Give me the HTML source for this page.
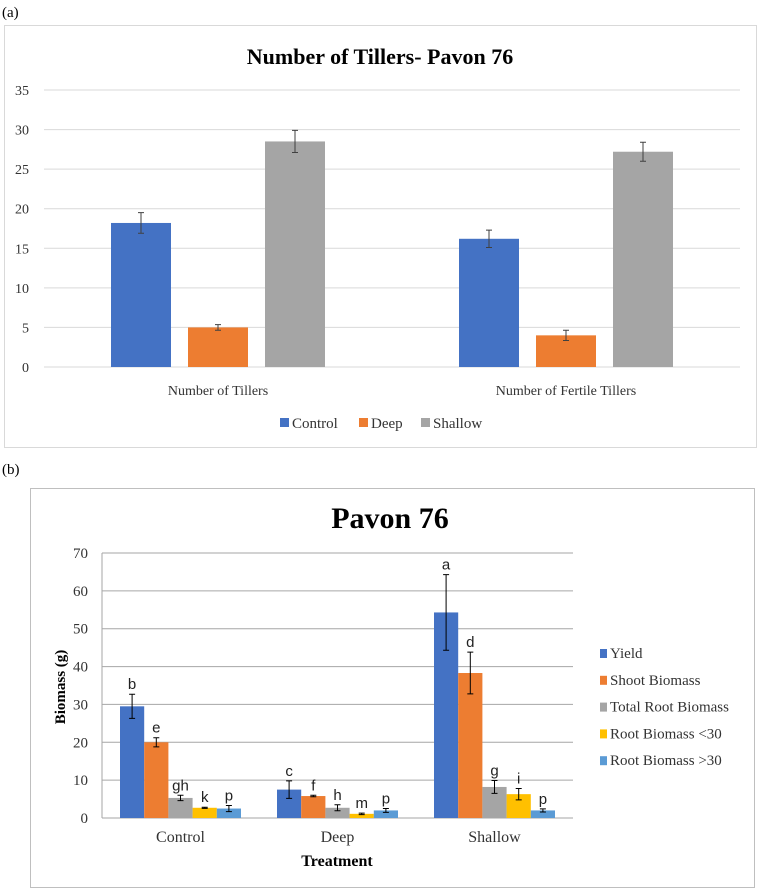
<!DOCTYPE html>
<html><head><meta charset="utf-8"><style>
body{margin:0;background:#fff;}
svg{display:block;font-family:"Liberation Serif",serif;}
</style></head><body>
<svg id="s" width="760" height="896" viewBox="0 0 760 896">
<text x="2" y="17" font-size="15">(a)</text>
<rect x="4.5" y="25.5" width="752" height="422" fill="#fff" stroke="#d9d9d9"/>
<text x="380" y="64" font-size="22" font-weight="bold" text-anchor="middle">Number of Tillers- Pavon 76</text>
<g id="a"></g>
<text x="2" y="474" font-size="15">(b)</text>
<rect x="30.5" y="488.5" width="724" height="399" fill="#fff" stroke="#bfbfbf"/>
<text x="390" y="528" font-size="30" font-weight="bold" text-anchor="middle">Pavon 76</text>
<g id="b"></g>
</svg>
<script>
// Chart A data
const aCategories=["Number of Tillers","Number of Fertile Tillers"];
const aSeries=["Control","Deep","Shallow"];
const aControl=[18.2,16.2];
const aDeep=[5.0,4.0];
const aShallow=[28.5,27.2];
const aControlErr=[1.3,1.1];
const aDeepErr=[0.35,0.65];
const aShallowErr=[1.4,1.2];
const aTicks=[0,5,10,15,20,25,30,35];
// Chart B data
const bCategories=["Control","Deep","Shallow"];
const bSeries=["Yield","Shoot Biomass","Total Root Biomass","Root Biomass <30","Root Biomass >30"];
const bYield=[29.5,7.5,54.3];
const bShoot=[20,5.8,38.3];
const bTotalRoot=[5.3,2.7,8.2];
const bRootLt30=[2.7,1.1,6.3];
const bRootGt30=[2.5,2.0,2.0];
const bYieldErr=[3.2,2.3,10];
const bShootErr=[1.2,0.2,5.5];
const bTotalRootErr=[0.7,0.8,1.7];
const bRootLt30Err=[0.15,0.2,1.5];
const bRootGt30Err=[0.8,0.5,0.4];
const bLetters=[["b","e","gh","k","p"],["c","f","h","m","p"],["a","d","g","i","p"]];
const bTicks=[0,10,20,30,40,50,60,70];

const NS="http://www.w3.org/2000/svg";
function mk(p,t,at,txt){const e=document.createElementNS(NS,t);for(const k in at)e.setAttribute(k,at[k]);if(txt!=null)e.textContent=txt;p.appendChild(e);return e;}

// ---- Chart A ----
(function(){
const g=document.getElementById('a');
const x0=44,x1=740,yTop=90,yBot=367,maxV=35;
const y=v=>yBot-(yBot-yTop)*v/maxV;
const catW=(x1-x0)/aCategories.length;
const colors=["#4472C4","#ED7D31","#A5A5A5"];
const vals=[aControl,aDeep,aShallow],errs=[aControlErr,aDeepErr,aShallowErr];
aTicks.forEach(t=>{
 const l=mk(g,'line',{x1:x0,x2:x1,y1:y(t),y2:y(t),stroke:"#d9d9d9","stroke-width":1});
 
 
 const tx=mk(g,'text',{x:29,y:y(t)+5,"font-size":14,"text-anchor":"end",fill:"#333"},t);
 
 
});
const bw=60,step=77;
aCategories.forEach((c,i)=>{
 const cx=x0+catW*(i+0.5);
 vals.forEach((s,j)=>{
  const bx=cx+(j-1)*step-bw/2;
  const r=mk(g,'rect',{x:bx,y:y(s[i]),width:bw,height:yBot-y(s[i]),fill:colors[j]});
  
  
  const ex=bx+bw/2,e=errs[j][i];
  const p=mk(g,'path',{d:`M${ex},${y(s[i]+e)}V${y(s[i]-e)}M${ex-3},${y(s[i]+e)}h6M${ex-3},${y(s[i]-e)}h6`,stroke:"#404040","stroke-width":1,fill:"none"});
  
  
 });
 const t=mk(g,'text',{x:cx,y:395,"font-size":14,"text-anchor":"middle",fill:"#333"},c);
 
 
});
let lx=280;
aSeries.forEach((s,j)=>{
 const r=mk(g,'rect',{x:lx,y:418,width:9,height:9,fill:colors[j]});
 
 
 const t=mk(g,'text',{x:lx+12,y:428,"font-size":15,fill:"#333"},s);
 
 
 lx+=[79,62,0][j];
});
})();

// ---- Chart B ----
(function(){
const g=document.getElementById('b');
const x0=102,x1=573,yTop=553,yBot=818,maxV=70;
const y=v=>yBot-(yBot-yTop)*v/maxV;
const catW=(x1-x0)/bCategories.length;
const colors=["#4472C4","#ED7D31","#A5A5A5","#FFC000","#5B9BD5"];
const vals=[bYield,bShoot,bTotalRoot,bRootLt30,bRootGt30];
const errs=[bYieldErr,bShootErr,bTotalRootErr,bRootLt30Err,bRootGt30Err];
bTicks.forEach(t=>{
 const l=mk(g,'line',{x1:x0,x2:x1,y1:y(t),y2:y(t),stroke:"#a6a6a6","stroke-width":1});
 
 
 const tx=mk(g,'text',{x:88,y:y(t)+5,"font-size":15,"text-anchor":"end",fill:"#333"},t);
 
 
});
const ax=mk(g,'line',{x1:x0,x2:x0,y1:yTop,y2:yBot,stroke:"#a6a6a6"});


const bw=24.2;
bCategories.forEach((c,i)=>{
 const cx=x0+catW*(i+0.5);
 vals.forEach((s,j)=>{
  const bx=cx+(j-2.5)*bw;
  const r=mk(g,'rect',{x:bx,y:y(s[i]),width:bw,height:yBot-y(s[i]),fill:colors[j]});
  
  
  const ex=bx+bw/2,e=errs[j][i];
  const p=mk(g,'path',{d:`M${ex},${y(s[i]+e)}V${y(s[i]-e)}M${ex-3},${y(s[i]+e)}h6M${ex-3},${y(s[i]-e)}h6`,stroke:"#000","stroke-width":1,fill:"none"});
  
  
  const lt=mk(g,'text',{x:ex,y:y(s[i]+e)-5,"font-size":15,"text-anchor":"middle",fill:"#222","font-family":"Liberation Sans, sans-serif"},bLetters[i][j]);
  
  
 });
 const t=mk(g,'text',{x:cx,y:842,"font-size":16,"text-anchor":"middle",fill:"#333"},c);
 
 
});
const xt=mk(g,'text',{x:337,y:866,"font-size":16,"font-weight":"bold","text-anchor":"middle"},"Treatment");


const yt=mk(g,'text',{x:0,y:0,"font-size":15,"font-weight":"bold","text-anchor":"middle",transform:"translate(65,687) rotate(-90)"},"Biomass (g)");


bSeries.forEach((s,j)=>{
 const ly=658+j*26.8;
 const r=mk(g,'rect',{x:600,y:ly-9,width:7,height:9,fill:colors[j]});
 
 
 const t=mk(g,'text',{x:610,y:ly,"font-size":15,fill:"#333"},s);
 
 
});
})();
</script>
</body></html>
